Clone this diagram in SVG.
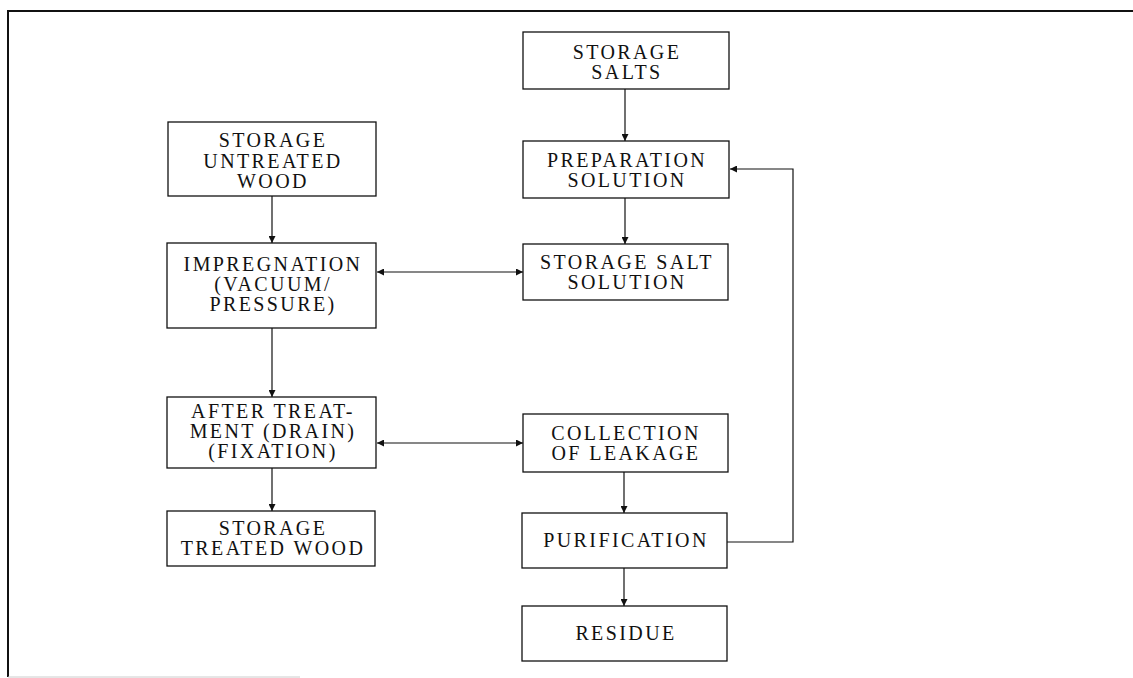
<svg xmlns="http://www.w3.org/2000/svg" width="1133" height="678" viewBox="0 0 1133 678">
<style>
.box{fill:#fff;stroke:#111;stroke-width:1.3}
.t{font-family:"Liberation Serif","Times New Roman",serif;font-size:20px;letter-spacing:2.4px;fill:#111;text-anchor:middle}
.c{fill:none;stroke:#111;stroke-width:1.2}
</style>
<defs>
<marker id="ah" viewBox="0 0 10 10" refX="10" refY="5" markerWidth="8" markerHeight="7" markerUnits="userSpaceOnUse" orient="auto-start-reverse">
<path d="M0,0 L10,5 L0,10 z" fill="#111"/>
</marker>
</defs>
<rect width="1133" height="678" fill="#fff"/>
<g id="frame">
<line x1="8" y1="11" x2="1133" y2="11" stroke="#111" stroke-width="2"/>
<line x1="8" y1="10" x2="8" y2="677" stroke="#111" stroke-width="2"/>
<line x1="8" y1="677" x2="300" y2="677" stroke="#ccc" stroke-width="1"/>
</g>
<g id="connectors">
<line class="c" x1="272" y1="196" x2="272" y2="243" marker-end="url(#ah)"/>
<line class="c" x1="272" y1="328" x2="272" y2="397" marker-end="url(#ah)"/>
<line class="c" x1="272" y1="468" x2="272" y2="511" marker-end="url(#ah)"/>
<line class="c" x1="625" y1="89" x2="625" y2="141" marker-end="url(#ah)"/>
<line class="c" x1="625" y1="198" x2="625" y2="244" marker-end="url(#ah)"/>
<line class="c" x1="624" y1="472" x2="624" y2="513" marker-end="url(#ah)"/>
<line class="c" x1="624" y1="568" x2="624" y2="606" marker-end="url(#ah)"/>
<line class="c" x1="377" y1="272" x2="523" y2="272" marker-start="url(#ah)" marker-end="url(#ah)"/>
<line class="c" x1="377" y1="443" x2="523" y2="443" marker-start="url(#ah)" marker-end="url(#ah)"/>
<polyline class="c" points="727,542 793,542 793,169 730,169" marker-end="url(#ah)"/>
</g>
<g id="n_untreated">
<rect class="box" x="168" y="122" width="208" height="74"/>
<text class="t" x="273" y="147">STORAGE</text>
<text class="t" x="273" y="168">UNTREATED</text>
<text class="t" x="273" y="188">WOOD</text>
</g>
<g id="n_impregnation">
<rect class="box" x="167" y="243" width="209" height="85"/>
<text class="t" x="273" y="271">IMPREGNATION</text>
<text class="t" x="273" y="291">(VACUUM/</text>
<text class="t" x="273" y="311">PRESSURE)</text>
</g>
<g id="n_after">
<rect class="box" x="167" y="397" width="209" height="71"/>
<text class="t" x="273" y="418">AFTER TREAT-</text>
<text class="t" x="273" y="438">MENT (DRAIN)</text>
<text class="t" x="273" y="458">(FIXATION)</text>
</g>
<g id="n_treated">
<rect class="box" x="167" y="511" width="208" height="55"/>
<text class="t" x="273" y="535">STORAGE</text>
<text class="t" x="273" y="555">TREATED WOOD</text>
</g>
<g id="n_salts">
<rect class="box" x="523" y="32" width="206" height="57"/>
<text class="t" x="627" y="59">STORAGE</text>
<text class="t" x="627" y="79">SALTS</text>
</g>
<g id="n_preparation">
<rect class="box" x="523" y="141" width="206" height="57"/>
<text class="t" x="627" y="167">PREPARATION</text>
<text class="t" x="627" y="187">SOLUTION</text>
</g>
<g id="n_saltsolution">
<rect class="box" x="523" y="244" width="205" height="56"/>
<text class="t" x="627" y="269">STORAGE SALT</text>
<text class="t" x="627" y="289">SOLUTION</text>
</g>
<g id="n_collection">
<rect class="box" x="523" y="414" width="205" height="58"/>
<text class="t" x="626" y="440">COLLECTION</text>
<text class="t" x="626" y="460">OF LEAKAGE</text>
</g>
<g id="n_purification">
<rect class="box" x="522" y="513" width="205" height="55"/>
<text class="t" x="626" y="547">PURIFICATION</text>
</g>
<g id="n_residue">
<rect class="box" x="522" y="606" width="205" height="55"/>
<text class="t" x="626" y="640">RESIDUE</text>
</g>
</svg>
